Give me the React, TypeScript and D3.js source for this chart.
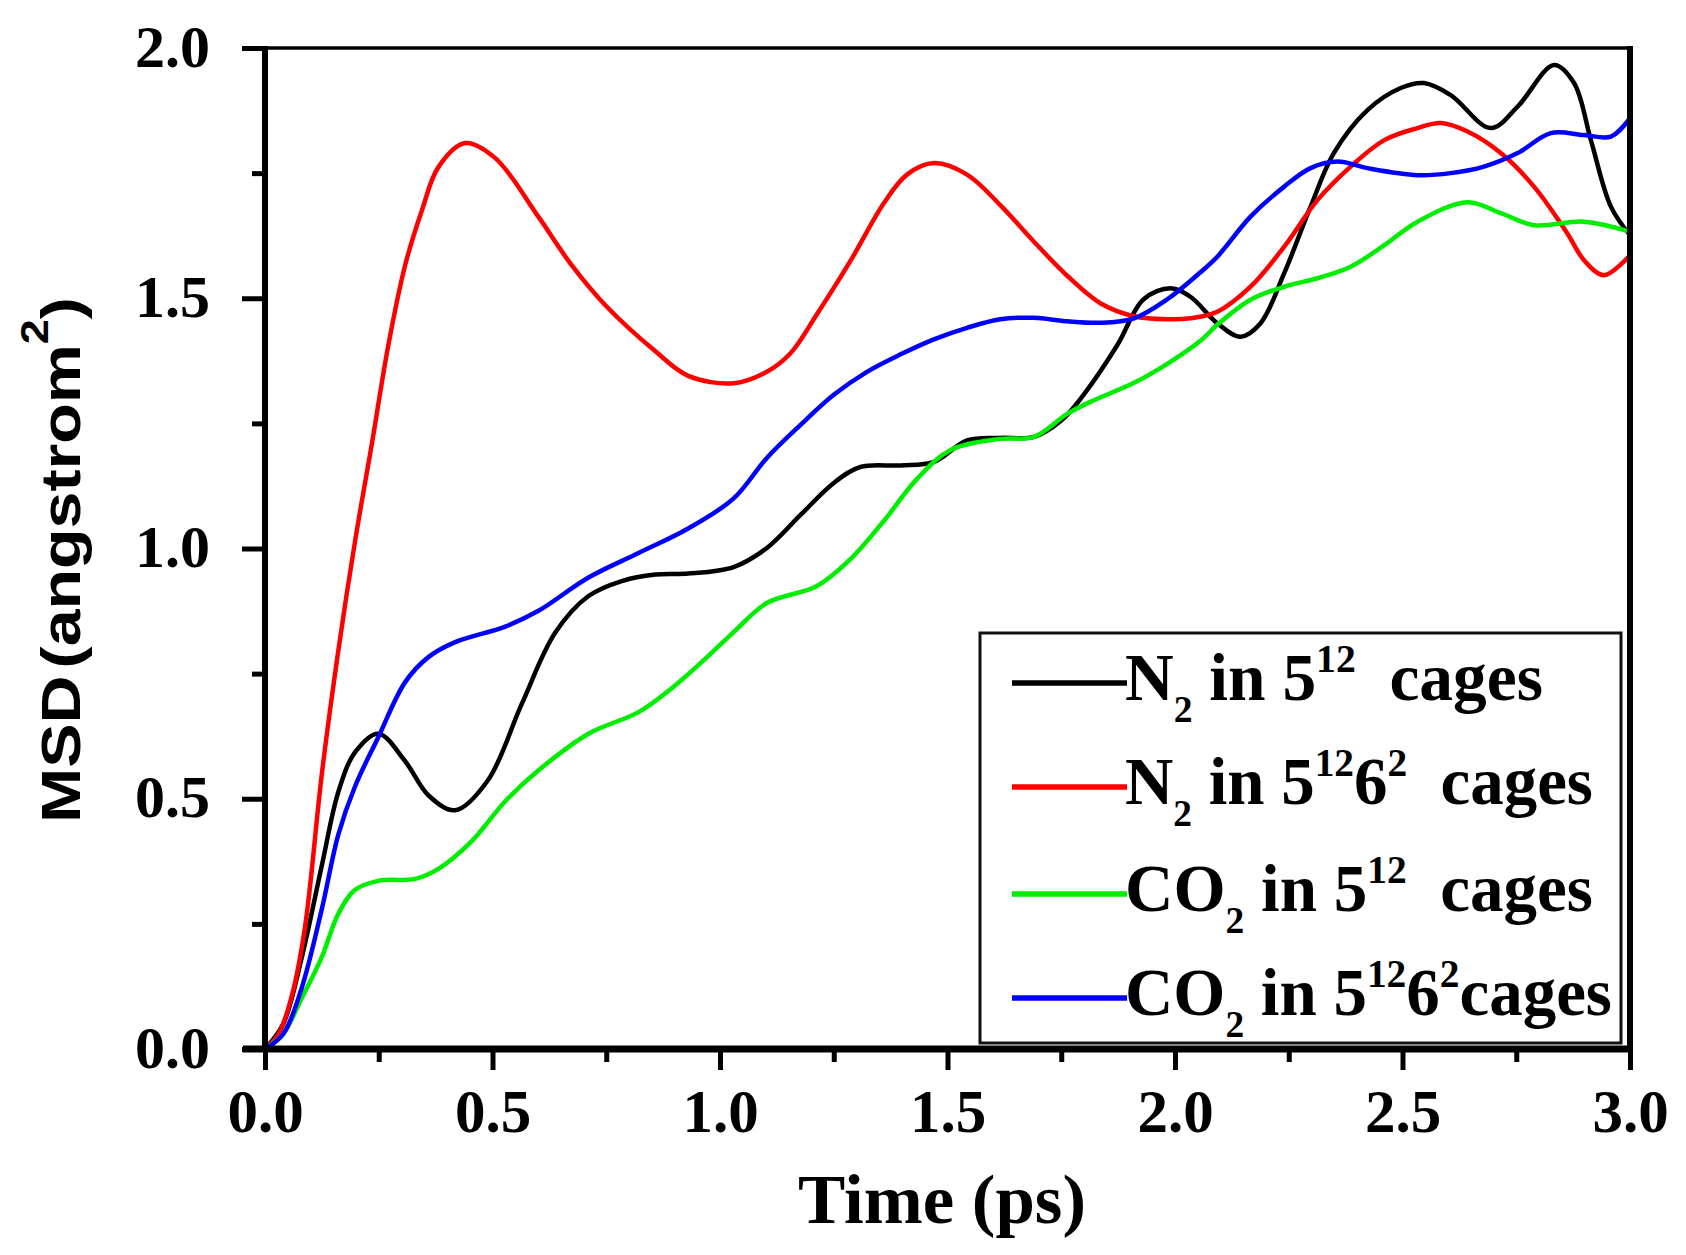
import * as d3 from 'd3';
import { useRef, useEffect } from 'react';

// time (ps) / MSD (angstrom^2)
const n2SmallTime = [0, 0.04, 0.08, 0.125, 0.161, 0.198, 0.249, 0.308, 0.359, 0.418, 0.49, 0.565, 0.638, 0.711, 0.784, 0.858, 0.93, 1.03, 1.103, 1.177, 1.25, 1.309, 1.397, 1.47, 1.543, 1.616, 1.69, 1.748, 1.799, 1.873, 1.931, 1.99, 2.034, 2.093, 2.144, 2.188, 2.24, 2.298, 2.349, 2.423, 2.496, 2.547, 2.606, 2.694, 2.753, 2.833, 2.877, 2.914, 2.958, 3.0];
const n2SmallMsd = [0, 0.05, 0.18, 0.367, 0.513, 0.593, 0.63, 0.575, 0.507, 0.477, 0.537, 0.691, 0.832, 0.905, 0.935, 0.948, 0.95, 0.963, 1.001, 1.067, 1.131, 1.163, 1.166, 1.173, 1.216, 1.221, 1.223, 1.254, 1.307, 1.406, 1.498, 1.52, 1.503, 1.45, 1.423, 1.45, 1.55, 1.683, 1.79, 1.876, 1.92, 1.93, 1.906, 1.84, 1.883, 1.966, 1.93, 1.816, 1.683, 1.626];

const n2LargeTime = [0, 0.03, 0.06, 0.088, 0.125, 0.161, 0.198, 0.235, 0.271, 0.308, 0.345, 0.381, 0.44, 0.506, 0.6, 0.674, 0.748, 0.858, 0.93, 1.03, 1.103, 1.155, 1.213, 1.287, 1.36, 1.411, 1.47, 1.543, 1.616, 1.69, 1.763, 1.836, 1.91, 1.983, 2.034, 2.093, 2.166, 2.24, 2.313, 2.386, 2.46, 2.533, 2.584, 2.643, 2.716, 2.789, 2.862, 2.899, 2.943, 3.0];
const n2LargeMsd = [0, 0.03, 0.11, 0.244, 0.55, 0.795, 1.015, 1.21, 1.406, 1.566, 1.676, 1.762, 1.81, 1.78, 1.664, 1.566, 1.486, 1.394, 1.345, 1.33, 1.353, 1.39, 1.468, 1.575, 1.69, 1.747, 1.77, 1.747, 1.686, 1.613, 1.545, 1.49, 1.464, 1.458, 1.46, 1.473, 1.523, 1.603, 1.696, 1.763, 1.816, 1.84, 1.85, 1.833, 1.79, 1.723, 1.63, 1.576, 1.546, 1.586];

const co2SmallTime = [0, 0.04, 0.08, 0.125, 0.161, 0.198, 0.249, 0.33, 0.381, 0.455, 0.528, 0.6, 0.711, 0.821, 0.894, 0.968, 1.03, 1.103, 1.213, 1.287, 1.36, 1.433, 1.507, 1.616, 1.69, 1.763, 1.814, 1.91, 1.983, 2.056, 2.093, 2.166, 2.24, 2.313, 2.386, 2.46, 2.533, 2.643, 2.716, 2.789, 2.899, 3.0];
const co2SmallMsd = [0, 0.03, 0.1, 0.184, 0.27, 0.318, 0.336, 0.34, 0.36, 0.416, 0.495, 0.556, 0.63, 0.673, 0.721, 0.78, 0.833, 0.891, 0.925, 0.979, 1.055, 1.139, 1.197, 1.219, 1.223, 1.269, 1.293, 1.331, 1.369, 1.415, 1.447, 1.497, 1.523, 1.54, 1.563, 1.606, 1.653, 1.692, 1.67, 1.646, 1.653, 1.633];

const co2LargeTime = [0, 0.04, 0.08, 0.125, 0.161, 0.198, 0.249, 0.308, 0.359, 0.418, 0.528, 0.6, 0.711, 0.821, 0.93, 1.03, 1.103, 1.177, 1.25, 1.323, 1.397, 1.47, 1.543, 1.616, 1.69, 1.763, 1.836, 1.91, 1.983, 2.056, 2.093, 2.166, 2.24, 2.298, 2.357, 2.423, 2.533, 2.606, 2.679, 2.753, 2.826, 2.899, 2.958, 3.0];
const co2LargeMsd = [0, 0.03, 0.12, 0.28, 0.428, 0.525, 0.623, 0.733, 0.783, 0.813, 0.844, 0.875, 0.942, 0.991, 1.04, 1.1, 1.181, 1.247, 1.307, 1.353, 1.388, 1.418, 1.441, 1.458, 1.461, 1.454, 1.451, 1.46, 1.498, 1.552, 1.583, 1.663, 1.723, 1.76, 1.773, 1.76, 1.746, 1.75, 1.763, 1.79, 1.83, 1.826, 1.823, 1.86];

const xMajorTicks = [0, 0.5, 1.0, 1.5, 2.0, 2.5, 3.0];
const xMinorTicks = [0.25, 0.75, 1.25, 1.75, 2.25, 2.75];
const yMajorTicks = [0, 0.5, 1.0, 1.5, 2.0];
const yMinorTicks = [0.25, 0.75, 1.25, 1.75];

// legend pieces: [text, kind] where kind is n(ormal), sub or sup
type Piece = [string, 'n' | 'sub' | 'sup'];
const legendLabels: Piece[][] = [
  [['N', 'n'], ['2', 'sub'], [' in 5', 'n'], ['12', 'sup'], ['  cages', 'n']],
  [['N', 'n'], ['2', 'sub'], [' in 5', 'n'], ['12', 'sup'], ['6', 'n'], ['2', 'sup'], ['  cages', 'n']],
  [['CO', 'n'], ['2', 'sub'], [' in 5', 'n'], ['12', 'sup'], ['  cages', 'n']],
  [['CO', 'n'], ['2', 'sub'], [' in 5', 'n'], ['12', 'sup'], ['6', 'n'], ['2', 'sup'], ['cages', 'n']],
];

const series = [
  { t: n2SmallTime, v: n2SmallMsd, color: '#000000' },
  { t: n2LargeTime, v: n2LargeMsd, color: '#ff0000' },
  { t: co2SmallTime, v: co2SmallMsd, color: '#00ee00' },
  { t: co2LargeTime, v: co2LargeMsd, color: '#0000ff' },
];

const W = 1686;
const H = 1255;
const serif = '"Liberation Serif", "Times New Roman", serif';
const sans = '"Liberation Sans", Arial, sans-serif';

const MsdChart = () => {
  const ref = useRef<SVGSVGElement>(null);

  useEffect(() => {
    if (!ref.current) return;
    const svg = d3.select(ref.current);
    svg.selectAll('*').remove();

    const x = d3.scaleLinear().domain([0, 3]).range([265, 1630]);
    const y = d3.scaleLinear().domain([0, 2]).range([1049, 48]);

    svg.append('rect').attr('width', W).attr('height', H).attr('fill', '#fff');

    // curves
    const line = d3.line<[number, number]>()
      .x(d => x(d[0]))
      .y(d => y(d[1]))
      .curve(d3.curveCatmullRom.alpha(0.5));
    series.forEach(s => {
      svg.append('path')
        .attr('d', line(d3.zip(s.t, s.v) as [number, number][]))
        .attr('fill', 'none')
        .attr('stroke', s.color)
        .attr('stroke-width', 4.5)
        .attr('stroke-linejoin', 'round');
    });

    // frame: thin top, thick right
    svg.append('line').attr('x1', x(0)).attr('x2', x(3)).attr('y1', y(2)).attr('y2', y(2))
      .attr('stroke', '#000').attr('stroke-width', 3.5);
    svg.append('line').attr('x1', x(3)).attr('x2', x(3)).attr('y1', y(2) - 2).attr('y2', y(0))
      .attr('stroke', '#000').attr('stroke-width', 6);

    // legend box (drawn before the axes so the x axis sits over its bottom edge)
    svg.append('rect')
      .attr('x', 980).attr('y', 633).attr('width', 641).attr('height', 410)
      .attr('fill', '#fff').attr('stroke', '#111').attr('stroke-width', 3);

    // x axis
    const gx = svg.append('g').attr('transform', `translate(0,${y(0)})`);
    gx.append('g').call(d3.axisBottom(x).tickValues(xMinorTicks).tickSize(13).tickFormat(() => ''));
    gx.append('g').call(d3.axisBottom(x).tickValues(xMajorTicks).tickSize(21).tickFormat(d3.format('.1f')));
    gx.selectAll('.domain').remove();
    gx.selectAll('line').attr('stroke-width', 5);
    gx.selectAll('text')
      .attr('y', 83).attr('dy', null)
      .attr('font-family', serif).attr('font-weight', 'bold').attr('font-size', 61).attr('fill', '#000');
    gx.append('line').attr('x1', x(0) - 22).attr('x2', x(3) + 3).attr('stroke', '#000').attr('stroke-width', 7);

    // y axis
    const gy = svg.append('g').attr('transform', `translate(${x(0)},0)`);
    gy.append('g').call(d3.axisLeft(y).tickValues(yMinorTicks).tickSize(13).tickFormat(() => ''));
    gy.append('g').call(d3.axisLeft(y).tickValues(yMajorTicks).tickSize(23).tickFormat(d3.format('.1f')));
    gy.selectAll('.domain').remove();
    gy.selectAll('line').attr('stroke-width', 5);
    gy.selectAll('text')
      .attr('x', -55).attr('y', 18).attr('dy', null)
      .attr('font-family', serif).attr('font-weight', 'bold').attr('font-size', 60).attr('fill', '#000');
    gy.append('line').attr('y1', y(2) - 2).attr('y2', y(0) + 3).attr('stroke', '#000').attr('stroke-width', 6);

    // stretch or squeeze a text to the width it has in the figure
    const fitText = (g: d3.Selection<SVGGElement, unknown, null, undefined>, text: d3.Selection<SVGTextElement, unknown, null, undefined>, target: number, base: string) => {
      const len = (text.node() as SVGTextElement).getComputedTextLength();
      g.attr('transform', `${base} scale(${target / len},1)`);
    };

    // x title
    const tg = svg.append('g');
    const tt = tg.append('text')
      .attr('text-anchor', 'middle')
      .attr('font-family', serif).attr('font-weight', 'bold').attr('font-size', 70)
      .text('Time (ps)');
    fitText(tg, tt, 288, `translate(942,1223)`);

    // y title
    const yg = svg.append('g');
    const yt = yg.append('text')
      .attr('text-anchor', 'middle')
      .attr('font-family', sans).attr('font-weight', 'bold').attr('font-size', 56);
    yt.append('tspan').text('MSD');
    yt.append('tspan').attr('dx', 6).text('(angstrom');
    yt.append('tspan').attr('font-size', 38).attr('dy', -32).text('2');
    yt.append('tspan').attr('dy', 32).text(')');
    fitText(yg, yt, 519, `translate(80,560) rotate(-90)`);

    // legend entries
    const rowY = [683, 787, 894, 998];
    const rowWidth = [418, 468, 468, 487];
    series.forEach((s, i) => {
      svg.append('line')
        .attr('x1', 1012).attr('x2', 1127).attr('y1', rowY[i]).attr('y2', rowY[i])
        .attr('stroke', s.color).attr('stroke-width', 5.5);
      const g = svg.append('g');
      const t = g.append('text')
        .attr('font-family', serif).attr('font-weight', 'bold').attr('font-size', 68)
        .attr('fill', '#000')
        .style('white-space', 'pre');
      let shift = 0;
      legendLabels[i].forEach(([str, kind]) => {
        const target = kind === 'sub' ? 22 : kind === 'sup' ? -28 : 0;
        const sp = t.append('tspan').attr('dy', target - shift).text(str);
        if (kind !== 'n') sp.attr('font-size', kind === 'sub' ? 38 : 40);
        shift = target;
      });
      fitText(g, t, rowWidth[i], `translate(1125,${rowY[i] + 17})`);
    });
  }, []);

  return <svg ref={ref} width={W} height={H} style={{ position: 'absolute', left: 0, top: 0 }}></svg>;
};

export default function App() {
  return <MsdChart />;
}
